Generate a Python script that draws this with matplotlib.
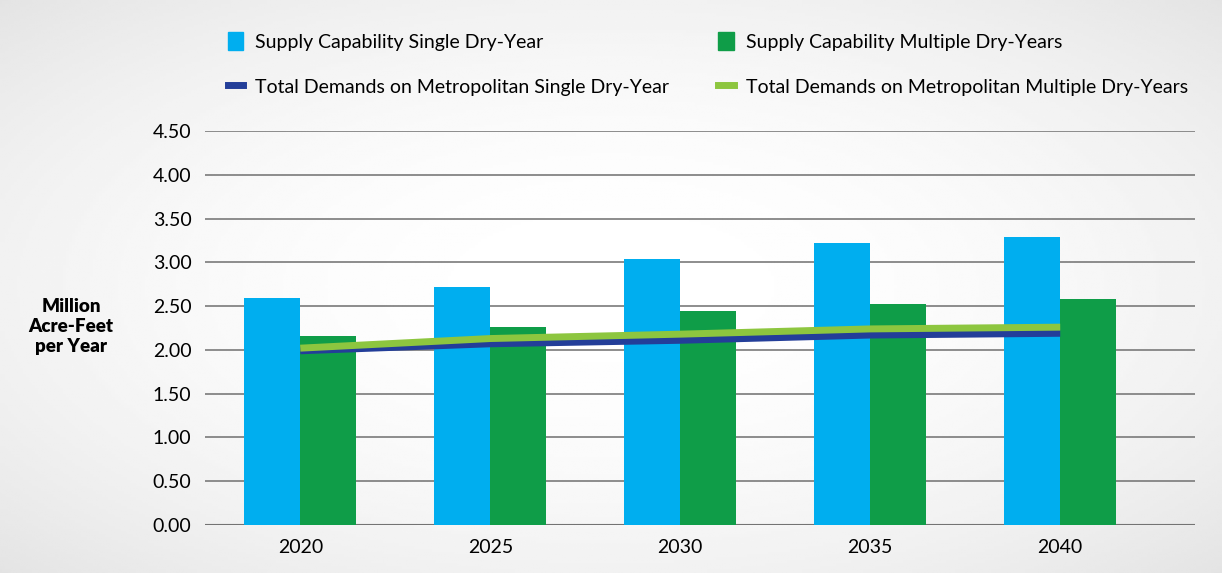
import matplotlib.pyplot as plt
import numpy as np
from matplotlib.patches import Patch
from matplotlib.lines import Line2D

plt.rcParams['font.family'] = ['Lato', 'DejaVu Sans']

years = ['2020', '2025', '2030', '2035', '2040']
supply_single = [2.59, 2.72, 3.04, 3.22, 3.29]
supply_multi = [2.16, 2.26, 2.44, 2.53, 2.58]
demand_single = [1.99, 2.07, 2.11, 2.17, 2.19]
demand_multi = [2.02, 2.13, 2.18, 2.24, 2.26]

c_blue = '#00aeef'
c_green = '#0f9d48'
c_navy = '#233e99'
c_lime = '#8dc63f'

fig = plt.figure(figsize=(12.22, 5.73), dpi=100)
fig.patch.set_facecolor('#eeeeee')

# light panel in the middle
bg = fig.add_axes([0, 0, 1, 1], zorder=-1)
yy, xx = np.mgrid[0:1:200j, 0:1:400j]
d = np.sqrt(((xx - 0.5) / 0.75) ** 2 + ((yy - 0.5) / 0.75) ** 2)
bg.imshow(1 - 0.12 * d ** 2, cmap='gray', vmin=0, vmax=1, aspect='auto', extent=[0, 1, 0, 1])
bg.axis('off')

ax = fig.add_axes([0.168, 0.084, 0.81, 0.687])
ax.set_facecolor('none')
x = np.arange(len(years))
w = 0.295
ax.bar(x - w / 2, supply_single, w, color=c_blue, zorder=2)
ax.bar(x + w / 2, supply_multi, w, color=c_green, zorder=2)
ax.plot(x, demand_single, color=c_navy, lw=5, zorder=3, solid_capstyle='butt')
ax.plot(x, demand_multi, color=c_lime, lw=5, zorder=4, solid_capstyle='butt')

ax.set_xlim(-0.5, 4.71)
ax.set_ylim(0, 4.5)
ax.set_yticks(np.arange(0, 4.51, 0.5))
ax.set_yticklabels([f'{v:.2f}' for v in np.arange(0, 4.51, 0.5)], fontsize=14)
ax.set_xticks(x)
ax.set_xticklabels(years, fontsize=14)
ax.grid(axis='y', color='#7a7a7a', lw=1.2, zorder=1)
ax.tick_params(length=0, pad=10)
for s in ax.spines.values():
    s.set_visible(False)
ax.axhline(0, color='#555555', lw=1.5, zorder=1)

fig.text(0.058, 0.43, 'Million\nAcre-Feet\nper Year', ha='center', va='center',
         fontsize=13.5, fontweight='heavy', linespacing=1.2)

handles = [
    Patch(color=c_blue),
    Line2D([], [], color=c_navy, lw=5),
    Patch(color=c_green),
    Line2D([], [], color=c_lime, lw=5),
]
labels = [
    'Supply Capability Single Dry-Year',
    'Total Demands on Metropolitan Single Dry-Year',
    'Supply Capability Multiple Dry-Years',
    'Total Demands on Metropolitan Multiple Dry-Years',
]
fig.legend(handles, labels, ncol=2, loc='upper left', bbox_to_anchor=(0.172, 0.975),
           frameon=False, fontsize=14, handlelength=0.8, handleheight=1.1,
           handletextpad=0.6, columnspacing=2.55, labelspacing=1.35)

fig.savefig('out.png', dpi=100)
